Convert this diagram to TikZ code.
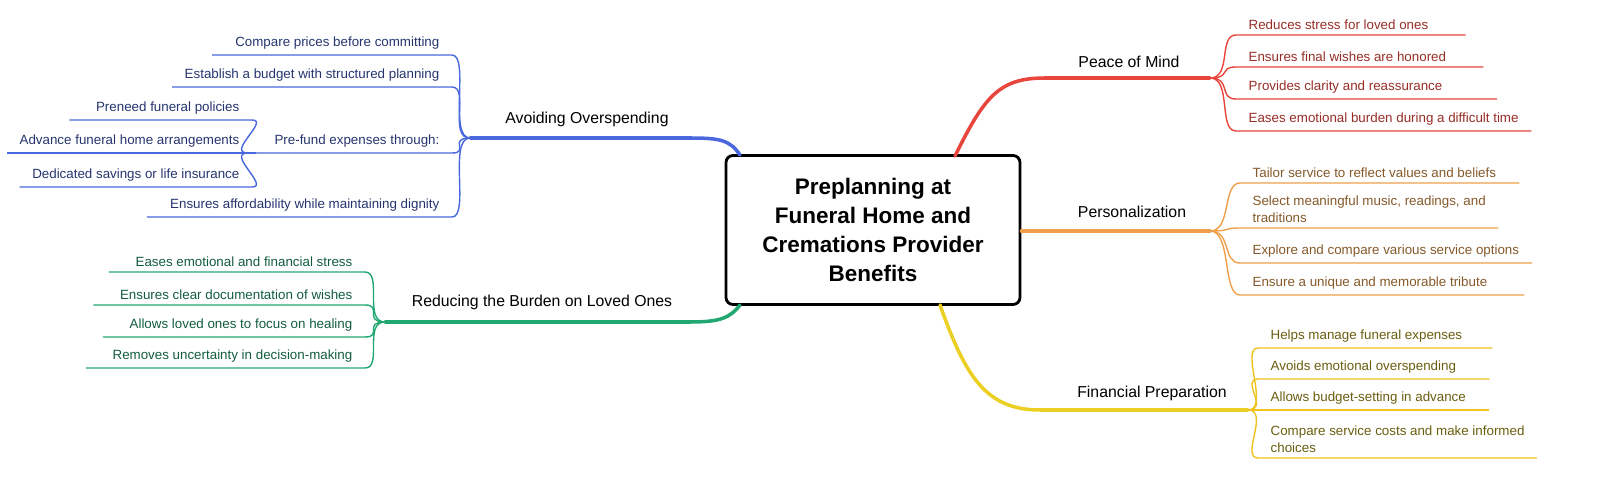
\documentclass[tikz,border=0pt]{standalone}
\usepackage{fontspec}
\setmainfont{Liberation Sans}
\usetikzlibrary{positioning}
\definecolor{cRed}{HTML}{E8453C}
\definecolor{cOra}{HTML}{F0A04B}
\definecolor{cYel}{HTML}{EBCF22}
\definecolor{cBlu}{HTML}{4A67DD}
\definecolor{cGrn}{HTML}{20A870}
\tikzset{
  leafR/.style={anchor=south west,inner xsep=7pt,inner ysep=3pt,font=\fontsize{7.6}{9.5}\selectfont,align=left},
  leafL/.style={anchor=south east,inner xsep=7pt,inner ysep=3pt,font=\fontsize{7.6}{9.5}\selectfont,align=left},
  topic/.style={font=\fontsize{9}{10}\selectfont,inner sep=1pt},
  twig/.style={line width=0.8pt},
  limb/.style={line width=2pt,line cap=round}
}
\newcommand{\twigR}[2]{\draw[twig] (#1) .. controls +(22,0) and +(-18,0) .. (#2.south west) -- (#2.south east);}
\newcommand{\twigL}[2]{\draw[twig] (#1) .. controls +(-22,0) and +(18,0) .. (#2.south east) -- (#2.south west);}
\begin{document}
\begin{tikzpicture}[x=0.02cm,y=-0.02cm]
\useasboundingbox (0,0) rectangle (1609,486);
% centre
\node [draw,line width=1.6pt,rounded corners=4pt,minimum width=294*0.02cm,minimum height=149*0.02cm,
  font=\fontsize{12.8}{16.5}\selectfont\bfseries,align=center] (root) at (873,230)
  {Preplanning at\\Funeral Home and\\Cremations Provider\\Benefits};
% Peace of Mind
\coordinate (pj) at (1210,78);
\node [topic] (pom) at (1129,62) {Peace of Mind};
\draw [limb,cRed] (955,156) .. controls (985,95) and (1000,78) .. (1045,78) -- (pj);
\begin{scope}[cRed,text=cRed!65!black]
\node [leafR] (p1) at (1236,35) {Reduces stress for loved ones\hspace{14pt}};
\node [leafR] (p2) at (1236,67) {Ensures final wishes are honored\hspace{14pt}};
\node [leafR] (p3) at (1236,99) {Provides clarity and reassurance\hspace{24pt}};
\node [leafR] (p4) at (1236,131) {Eases emotional burden during a difficult time};
\foreach \n in {p1,p2,p3,p4} {\twigR{pj}{\n}}
\end{scope}
% Personalization
\coordinate (sj) at (1210,231);
\node [topic] (per) at (1132,212) {Personalization};
\draw [limb,cOra] (root.east |- sj) -- (sj);
\begin{scope}[cOra,text=cOra!55!black]
\node [leafR] (s1) at (1240,183) {Tailor service to reflect values and beliefs\hspace{6pt}};
\node [leafR] (s2) at (1240,228) {Select meaningful music, readings, and\hspace{30pt}\\traditions};
\node [leafR] (s3) at (1240,263) {Explore and compare various service options};
\node [leafR] (s4) at (1240,295) {Ensure a unique and memorable tribute\hspace{14pt}};
\foreach \n in {s1,s2,s3,s4} {\twigR{sj}{\n}}
\end{scope}
% Financial Preparation
\coordinate (fj) at (1248,410);
\node [topic] (fin) at (1152,393) {Financial Preparation};
\draw [limb,cYel] (940,305) .. controls (965,375) and (985,410) .. (1040,410) -- (fj);
\begin{scope}[cYel!85!orange,text=cYel!45!black]
\node [leafR] (f1) at (1258,348) {Helps manage funeral expenses\hspace{10pt}};
\node [leafR] (f2) at (1258,379) {Avoids emotional overspending\hspace{12pt}};
\node [leafR] (f3) at (1258,410) {Allows budget-setting in advance\hspace{6pt}};
\node [leafR] (f4) at (1258,458) {Compare service costs and make informed\hspace{4pt}\\choices};
\foreach \n in {f1,f2,f3,f4} {\twigR{fj}{\n}}
\end{scope}
% Avoiding Overspending
\coordinate (aj) at (470,138);
\node [topic] (avo) at (587,119) {Avoiding Overspending};
\draw [limb,cBlu] (740,155) .. controls (730,140) and (720,138) .. (690,138) -- (aj);
\begin{scope}[cBlu,text=cBlu!50!black]
\node [leafL] (a1) at (452,55) {\hspace{6pt}Compare prices before committing};
\node [leafL] (a2) at (452,87) {Establish a budget with structured planning};
\node [leafL] (a3) at (452,153) {\hspace{8pt}Pre-fund expenses through:};
\node [leafL] (a4) at (452,217) {\hspace{6pt}Ensures affordability while maintaining dignity};
\foreach \n in {a1,a2,a3,a4} {\twigL{aj}{\n}}
\coordinate (bj) at (a3.south west);
\node [leafL] (b1) at (252,120) {\hspace{8pt}Preneed funeral policies};
\node [leafL] (b2) at (252,153) {Advance funeral home arrangements};
\node [leafL] (b3) at (252,187) {Dedicated savings or life insurance};
\foreach \n in {b1,b2,b3} {\twigL{bj}{\n}}
\end{scope}
% Reducing the Burden
\coordinate (rj) at (385,322);
\node [topic] (red) at (542,302) {Reducing the Burden on Loved Ones};
\draw [limb,cGrn] (740,305) .. controls (730,318) and (720,322) .. (690,322) -- (rj);
\begin{scope}[cGrn,text=cGrn!55!black]
\node [leafL] (r1) at (365,272) {\hspace{8pt}Eases emotional and financial stress};
\node [leafL] (r2) at (365,305) {\hspace{8pt}Ensures clear documentation of wishes};
\node [leafL] (r3) at (365,337) {\hspace{8pt}Allows loved ones to focus on healing};
\node [leafL] (r4) at (365,368) {\hspace{8pt}Removes uncertainty in decision-making};
\foreach \n in {r1,r2,r3,r4} {\twigL{rj}{\n}}
\end{scope}
\end{tikzpicture}
\end{document}
